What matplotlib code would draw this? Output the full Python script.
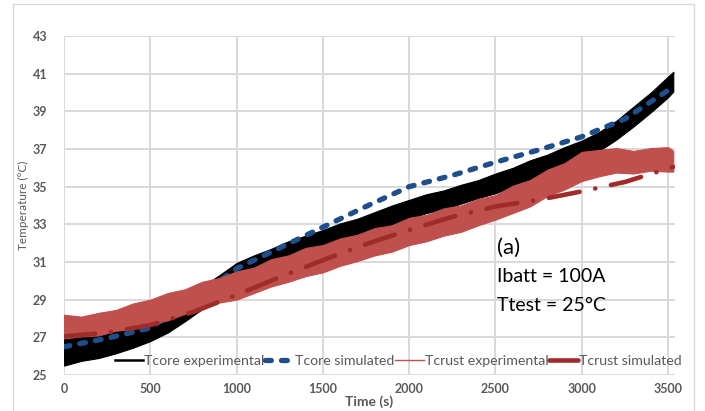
import matplotlib
matplotlib.use("Agg")
import matplotlib.pyplot as plt
from matplotlib.patches import Rectangle

# ---- data -------------------------------------------------------------
# experimental traces: sample times with lower/upper envelope of the noisy signal
t_exp = [0, 100, 200, 300, 400, 500, 600, 700, 800, 900, 1000, 1100, 1200,
         1300, 1400, 1500, 1600, 1700, 1800, 1900, 2000, 2100, 2200, 2300,
         2400, 2500, 2600, 2700, 2800, 2900, 3000, 3100, 3200, 3300, 3400,
         3500, 3530]

tcore_exp_low = [25.5, 25.75, 25.9, 26.15, 26.45, 26.8, 27.25, 27.85, 28.5,
                 29.2, 29.9, 30.35, 30.7, 31.05, 31.4, 31.7, 31.95, 32.35,
                 32.6, 33.0, 33.3, 33.6, 33.8, 34.1, 34.4, 34.65, 35.0, 35.3,
                 35.7, 36.05, 36.4, 36.9, 37.5, 38.2, 38.95, 39.75, 40.05]
tcore_exp_high = [26.9, 27.05, 27.25, 27.5, 27.75, 28.05, 28.5, 29.05, 29.7,
                  30.3, 30.95, 31.35, 31.7, 32.1, 32.4, 32.7, 33.05, 33.3,
                  33.65, 34.0, 34.3, 34.6, 34.8, 35.1, 35.35, 35.7, 36.0,
                  36.4, 36.7, 37.1, 37.45, 37.9, 38.5, 39.25, 40.0, 40.85,
                  41.1]

tcrust_exp_low = [26.95, 27.05, 27.1, 27.35, 27.45, 27.7, 27.9, 28.25, 28.5,
                  28.85, 29.0, 29.35, 29.7, 29.95, 30.25, 30.45, 30.8, 31.05,
                  31.35, 31.55, 31.9, 32.1, 32.4, 32.6, 32.95, 33.25, 33.6,
                  33.95, 34.5, 34.85, 35.3, 35.55, 35.75, 35.7, 35.85, 35.8,
                  35.8]
tcrust_exp_high = [28.2, 28.1, 28.3, 28.45, 28.8, 29.0, 29.35, 29.55, 29.95,
                   30.15, 30.5, 30.7, 31.15, 31.35, 31.75, 31.9, 32.25, 32.45,
                   32.8, 32.95, 33.35, 33.5, 33.85, 34.0, 34.35, 34.55, 35.05,
                   35.35, 35.9, 36.25, 36.85, 36.95, 37.05, 36.9, 37.05, 37.1,
                   36.9]

# simulated curves
t_sim = [0, 250, 500, 750, 1000, 1250, 1500, 1750, 2000, 2250, 2500, 2750,
         3000, 3250, 3530]
tcore_sim = [26.5, 26.95, 27.5, 29.0, 30.65, 31.75, 32.85, 33.95, 35.0,
             35.6, 36.3, 36.95, 37.65, 38.6, 40.3]
tcrust_sim = [27.05, 27.25, 27.65, 28.35, 29.25, 30.2, 31.1, 31.95, 32.7,
              33.4, 33.95, 34.3, 34.75, 35.25, 36.05]

x_ticks = [0, 500, 1000, 1500, 2000, 2500, 3000, 3500]
y_ticks = [25, 27, 29, 31, 33, 35, 37, 39, 41, 43]

labels = ["Tcore experimental", "Tcore simulated",
          "Tcrust experimental", "Tcrust simulated"]
annotation = ["(a)", "Ibatt = 100A", "Ttest = 25°C"]

# ---- style ------------------------------------------------------------
plt.rcParams["font.family"] = ["Lato", "DejaVu Sans"]
plt.rcParams["lines.scale_dashes"] = False

GREY_TXT = "#595959"
GRID = "#D9D9D9"
C_CORE_EXP = "#000000"
C_CORE_SIM = "#1F4E8C"
C_CRUST_EXP = "#C0504D"
C_CRUST_SIM = "#A02B2B"

CORE_SIM_DASH = (4.2, 7.3)
CRUST_SIM_DASH = (22.5, 11.5, 0.1, 11.5)

fig = plt.figure(figsize=(7.05, 4.11), dpi=100)
fig.patches.append(Rectangle((13 / 705, -0.05), (694 - 13) / 705, 1.05 - 4 / 411,
                             transform=fig.transFigure, fill=False,
                             edgecolor=GRID, linewidth=1.0))

ax = fig.add_axes([64 / 705, 1 - 375 / 411, (675 - 64) / 705, (375 - 36) / 411])

# experimental bands (core first, crust drawn over it)
ax.fill_between(t_exp, tcore_exp_low, tcore_exp_high, color=C_CORE_EXP,
                linewidth=0.8, edgecolor=C_CORE_EXP, zorder=3)
ax.plot(t_sim, tcore_sim, color=C_CORE_SIM, linewidth=3.8,
        dashes=CORE_SIM_DASH, dash_capstyle="round", zorder=4)
ax.fill_between(t_exp, tcrust_exp_low, tcrust_exp_high, color=C_CRUST_EXP,
                linewidth=0.8, edgecolor=C_CRUST_EXP, zorder=5)
ax.plot(t_sim, tcrust_sim, color=C_CRUST_SIM, linewidth=3.3,
        dashes=CRUST_SIM_DASH, dash_capstyle="round", zorder=6)

# legend entries
h_core_exp, = ax.plot([], [], color=C_CORE_EXP, linewidth=1.8)
h_core_sim, = ax.plot([], [], color=C_CORE_SIM, linewidth=3.8,
                      dashes=CORE_SIM_DASH, dash_capstyle="round")
h_crust_exp, = ax.plot([], [], color=C_CRUST_EXP, linewidth=1.0)
h_crust_sim, = ax.plot([], [], color=C_CRUST_SIM, linewidth=3.3,
                       solid_capstyle="round")

leg = ax.legend([h_core_exp, h_core_sim, h_crust_exp, h_crust_sim],
                labels, loc="center", bbox_to_anchor=(0.547, 0.04), ncol=4,
                frameon=False, fontsize=10.2, handlelength=2.0,
                handletextpad=0.1, columnspacing=0.05, borderpad=0.0,
                labelcolor=GREY_TXT)
leg.set_zorder(10)

ax.set_xlim(0, 3540)
ax.set_ylim(25, 43)
ax.set_xticks(x_ticks)
ax.set_yticks(y_ticks)
ax.grid(True, color=GRID, linewidth=1.4)
ax.set_axisbelow(True)
for s in ax.spines.values():
    s.set_visible(False)
ax.tick_params(length=0, colors=GREY_TXT, labelsize=9)
ax.tick_params(axis="y", pad=12)
ax.tick_params(axis="x", pad=6)
for lbl in ax.get_xticklabels() + ax.get_yticklabels():
    lbl.set_fontweight("bold")

ax.set_xlabel("Time (s)", fontsize=10, fontweight="bold", color=GREY_TXT,
              labelpad=0)
ax.set_ylabel("Temperature (°C)", fontsize=8.5, color=GREY_TXT, labelpad=3)

ax.text(0.709, 0.375, annotation[0], transform=ax.transAxes, fontsize=16,
        va="center", ha="left", color="#000000")
ax.text(0.709, 0.29, annotation[1], transform=ax.transAxes, fontsize=14,
        va="center", ha="left", color="#000000")
ax.text(0.709, 0.205, annotation[2], transform=ax.transAxes, fontsize=14,
        va="center", ha="left", color="#000000")

fig.savefig("out.png", dpi=100)
